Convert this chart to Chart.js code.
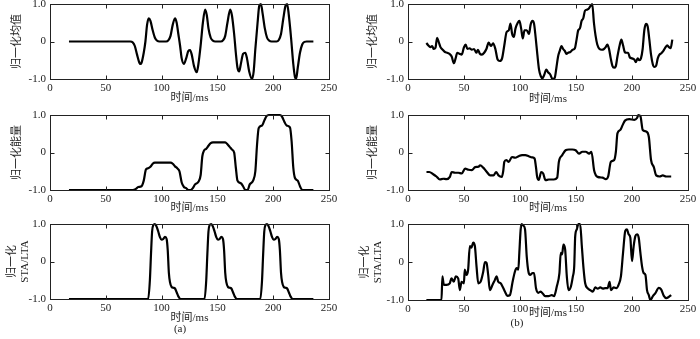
<!DOCTYPE html>
<html><head><meta charset="utf-8">
<script src="https://cdn.jsdelivr.net/npm/chart.js@4.4.1/dist/chart.umd.min.js"></script>
<style>
html,body{margin:0;padding:0;background:#fff;}
#wrap{position:relative;width:700px;height:339px;overflow:hidden;background:#fff;}
canvas{position:absolute;left:0;top:0;}
.cap{position:absolute;font:11px 'Liberation Serif','Noto Sans CJK SC',serif;color:#222;transform:translate(-50%,-50%);white-space:nowrap;}
</style></head><body>
<div id="wrap">
<canvas id="c0" width="700" height="339"></canvas>
<canvas id="c1" width="700" height="339"></canvas>
<canvas id="c2" width="700" height="339"></canvas>
<canvas id="c3" width="700" height="339"></canvas>
<canvas id="c4" width="700" height="339"></canvas>
<canvas id="c5" width="700" height="339"></canvas>
<div class="cap" style="left:180px;top:328px">(a)</div>
<div class="cap" style="left:517px;top:322px">(b)</div>
</div>
<script>
// ---------- data (time in ms, normalised values) ----------
const xTicks = [0, 50, 100, 150, 200, 250];
const yTicks = [-1, 0, 1];
const xTitle = '时间/ms';
const yTitles = ['归一化均值', '归一化能量', ['归一化', 'STA/LTA']];

// (a) synthetic signal
const meanA_t = [17,72,74,76,78,80,81,82,84,85.5,87,88.5,90,92,94,96,98,104,106,108,110,112,113.5,115,116.5,118,120,122,124,125.5,127,129,131.5,133,135,137,139,140.5,142,144,146,148,153,155,157,159,161.5,163,165,166.5,168,169.5,171,173,175,176.5,178.5,181,182.5,184,186,187.5,189,190.5,192.5,194.5,196.5,198.5,203,205,207,209,211,212.5,214,216,218,219.5,220.5,222,224,226,228,230,236];
const meanA_v = [0,0,-0.02,-0.12,-0.35,-0.56,-0.6,-0.57,-0.3,0,0.45,0.62,0.55,0.3,0.1,0.02,0,0,0.03,0.15,0.45,0.62,0.5,0.2,-0.1,-0.45,-0.6,-0.45,-0.25,-0.23,-0.35,-0.65,-0.82,-0.6,-0.1,0.5,0.85,0.7,0.35,0.1,0.02,0,0,0.03,0.15,0.5,0.85,0.7,0.2,-0.3,-0.7,-0.8,-0.6,-0.33,-0.3,-0.45,-0.8,-1.0,-0.8,-0.2,0.5,0.95,1.0,0.75,0.35,0.1,0.02,0,0,0.04,0.2,0.6,0.95,1.0,0.7,0.1,-0.6,-0.95,-1.0,-0.7,-0.3,-0.08,-0.01,0,0];

const energyA_t = [17,74,77,79,82,84,86,88,90,92,94,108,110,112,114,116,118,120,122,124,126,128,130,133,135,136.5,138,140,142,144,146,157,159,161,163,165,166.5,168,171,173,175,177,179,182,184,185.5,187,190,192,194,196,206,208,210,212,215,216.5,218,219.5,222,224,226,236];
const energyA_v = [-1,-1,-0.97,-0.92,-0.9,-0.75,-0.45,-0.42,-0.38,-0.3,-0.27,-0.27,-0.3,-0.37,-0.42,-0.5,-0.8,-0.92,-0.95,-1.0,-1.0,-0.95,-0.85,-0.78,-0.6,-0.1,0.05,0.1,0.18,0.25,0.27,0.27,0.22,0.15,0.08,0.0,-0.4,-0.75,-0.82,-0.9,-1.0,-1.0,-0.85,-0.75,-0.5,0.2,0.65,0.72,0.85,0.97,1.0,1.0,0.95,0.82,0.72,0.67,0.3,-0.4,-0.68,-0.75,-0.9,-1.0,-1.0];

const staA_t = [17,88,89.5,90.5,91.5,92.5,94,95.5,97,98.5,100,101.5,103,104.5,105.5,106.5,107.5,109,110.5,112,113.5,115,117,
  138.5,140,141,142,143,144.5,146,147.5,149,150.5,152,153.5,155,156,157,158,159.5,161,162.5,164,165.5,167.5,
  188.5,190,191,192,193,194.5,196,197.5,199,200.5,202,203.5,205,206,207,208,209.5,211,212.5,214,215.5,217.5,236];
const staA_v = [-1,-1,-0.5,0.2,0.8,0.97,1.0,0.93,0.8,0.65,0.58,0.6,0.66,0.6,0.3,-0.3,-0.55,-0.68,-0.7,-0.72,-0.82,-0.93,-1.0,
  -1,-0.5,0.2,0.8,0.97,1.0,0.93,0.8,0.65,0.58,0.6,0.66,0.6,0.3,-0.3,-0.55,-0.68,-0.7,-0.72,-0.82,-0.93,-1.0,
  -1,-0.5,0.2,0.8,0.97,1.0,0.93,0.8,0.65,0.58,0.6,0.66,0.6,0.3,-0.3,-0.55,-0.68,-0.7,-0.72,-0.82,-0.93,-1.0,-1.0];

// (b) recorded signal
const meanB_t = [16.4,18,20,21.5,23,24.5,26,27.5,29,31,33,35,37,39,41,42.5,44,46,48,50,51.5,53,55,57,59,61,62.5,64,66,68,70,72,74,76,78,80,82,84,86,88,90,91.5,93,94.5,96,98,99.5,101,102.5,104,106,108,109.5,111,112.5,114,115.5,117,118.5,120,121.5,123.5,125,127,129,131,132.5,134,135.5,137,138.5,140,141.5,143,145,147,149,150.5,152,153.5,155,156.5,158,160,161.5,163,164.5,166,167.5,169,171,173,175,176.5,178,179.5,181,182.5,184,185.5,187,189,190.5,192,193.5,195,196.5,198,200,202,203.5,205,206.5,208,209.5,211,212.5,214,215.5,217,218.5,220,221.5,223,224.5,226,228,230,231.5,233,234.5,236];
const meanB_v = [-0.04,-0.1,-0.15,-0.12,-0.2,-0.17,0.1,-0.02,-0.15,-0.22,-0.28,-0.3,-0.33,-0.4,-0.58,-0.45,-0.3,-0.33,-0.35,-0.15,-0.08,-0.2,-0.18,-0.22,-0.2,-0.3,-0.22,-0.32,-0.35,-0.3,-0.2,-0.03,-0.12,-0.05,-0.2,-0.48,-0.52,-0.45,-0.1,0.25,0.3,0.48,0.2,0.12,0.35,0.5,0.55,0.35,0.08,0.3,0.3,0.2,0.45,0.55,0.48,0.1,-0.35,-0.75,-0.92,-0.98,-0.9,-0.75,-0.82,-0.88,-1.0,-0.97,-0.7,-0.4,-0.25,-0.12,-0.2,-0.25,-0.33,-0.3,-0.28,-0.22,-0.18,0.05,0.3,0.35,0.55,0.62,0.82,0.85,0.88,0.95,1.0,0.5,0.15,-0.08,-0.2,-0.22,-0.2,-0.15,-0.08,-0.2,-0.45,-0.65,-0.7,-0.66,-0.4,-0.1,0.05,-0.1,-0.28,-0.3,-0.3,-0.42,-0.45,-0.48,-0.55,-0.45,-0.5,-0.45,-0.2,0.3,0.47,0.4,0.05,-0.35,-0.6,-0.68,-0.65,-0.45,-0.35,-0.32,-0.25,-0.15,-0.1,-0.15,-0.18,0.05];

const energyB_t = [16.5,19,22.5,25.4,28.4,31.4,34.4,37.4,39,42,45,48,51,54,57,60,63,64.4,67.4,70.4,73.4,76.3,78.7,80.8,83.8,85,86,87.7,90,92.8,95.8,98.8,101.8,104.8,107.8,110.8,113,114.3,115.3,116.8,118.9,120.7,122.8,125.7,130.2,133.2,134.7,137.7,140.7,143.7,146.7,149.7,152.7,155.7,158.7,161.7,163.8,166.2,169.2,173.7,176.6,178.7,181.1,184.1,185.6,187,189.5,191.6,193.7,197.6,202,204.5,205.7,207.5,209.6,212.6,215,217,219.5,221.6,224.6,227.5,230.5,235];
const energyB_v = [-0.52,-0.52,-0.58,-0.64,-0.72,-0.7,-0.71,-0.65,-0.52,-0.54,-0.54,-0.56,-0.43,-0.46,-0.47,-0.39,-0.38,-0.34,-0.41,-0.52,-0.61,-0.61,-0.52,-0.61,-0.65,-0.5,-0.25,-0.2,-0.25,-0.12,-0.14,-0.1,-0.07,-0.07,-0.1,-0.13,-0.16,-0.4,-0.65,-0.73,-0.52,-0.56,-0.74,-0.72,-0.72,-0.67,-0.25,-0.07,0.06,0.08,0.08,0.06,-0.03,0.02,0.02,-0.03,0.02,-0.48,-0.65,-0.67,-0.71,-0.64,-0.25,-0.2,0.02,0.51,0.6,0.73,0.85,0.89,0.87,0.92,1.0,0.97,0.6,0.56,0.42,-0.2,-0.39,-0.61,-0.64,-0.61,-0.64,-0.64];

const staB_t = [16.4,29.9,30.7,32,34.3,37.3,38.8,40.9,42.7,44.8,46.3,47.8,49.9,50.7,52.2,53.7,55.2,56.7,58.2,59.7,61.2,62.7,64.8,67.2,68.7,70.1,71.6,73.1,75.5,77.6,79.1,80.6,82.7,84.5,86.6,88.7,91,93.4,95.5,97,98.5,99.4,100.6,101.5,103,104.5,106,107.5,109,111.3,112.5,114.3,116.4,118.5,120.3,122.4,125.4,128.4,130.4,132.8,135.2,136.4,137.6,138.8,140.3,141.8,143.3,145.4,147.2,148.4,149.3,150.7,152.2,153.7,155.2,156.7,158.2,160.3,162.7,165,167.2,169.4,171.6,174,176.1,178.2,180,181.2,183.6,186,188,190.1,192,194,195.5,197,198.5,200,201.5,203,204.5,206,207.5,209,210.4,212,213.4,215,216.4,218.8,220.9,223.9,226,228.4,230.7,232.8,235];
const staB_v = [-1.0,-1.0,-0.38,-0.6,-0.6,-0.56,-0.43,-0.52,-0.38,-0.43,-0.74,-0.52,-0.56,-0.2,-0.34,-0.2,0.42,0.38,0.51,0.42,-0.12,-0.56,-0.52,-0.25,0,-0.02,-0.34,-0.74,-0.6,-0.47,-0.38,-0.52,-0.56,-0.65,-0.78,-0.89,-0.87,-0.52,-0.25,-0.16,-0.2,0.24,0.86,1.0,0.96,0.86,0.15,-0.25,-0.34,-0.29,-0.29,-0.69,-0.81,-0.78,-0.83,-0.9,-0.9,-0.87,-0.9,-0.65,-0.29,0.24,0.2,0.46,0.33,-0.38,-0.74,-0.65,-0.38,-0.12,0.68,0.86,1.0,1.0,0.42,-0.16,-0.56,-0.69,-0.74,-0.78,-0.67,-0.7,-0.67,-0.7,-0.69,-0.69,-0.52,-0.74,-0.67,-0.69,-0.6,-0.38,0.24,0.82,0.86,0.73,0.64,0.02,0.42,0.68,0.73,0.64,0.24,-0.12,-0.29,-0.34,-0.74,-0.87,-1.0,-0.89,-0.82,-0.68,-0.72,-0.89,-0.95,-0.92,-0.87];

// ---------- layout of the six panels ----------
const FS = 11, LH = FS * 1.2;
const panels = [
  {id:'c0', t:meanA_t,   v:meanA_v,   title:yTitles[0], plot:{l:50, r:329, t:4,   b:79},  yTitleX:17,  xTitleY:98},
  {id:'c1', t:energyA_t, v:energyA_v, title:yTitles[1], plot:{l:50, r:329, t:115, b:190}, yTitleX:17,  xTitleY:208},
  {id:'c2', t:staA_t,    v:staA_v,    title:yTitles[2], plot:{l:50, r:329, t:224, b:299}, yTitleX:12,  xTitleY:318},
  {id:'c3', t:meanB_t,   v:meanB_v,   title:yTitles[0], plot:{l:408,r:688, t:4,   b:79},  yTitleX:373, xTitleY:99},
  {id:'c4', t:energyB_t, v:energyB_v, title:yTitles[1], plot:{l:408,r:688, t:115, b:190}, yTitleX:373, xTitleY:208},
  {id:'c5', t:staB_t,    v:staB_v,    title:yTitles[2], plot:{l:408,r:688, t:224, b:300}, yTitleX:365, xTitleY:313}
];

Chart.defaults.font.family = "'Liberation Serif','Noto Sans CJK SC',serif";
Chart.defaults.font.size = FS;
Chart.defaults.color = '#222';

const boxPlugin = {
  id: 'boxTicks',
  afterDraw(chart) {
    const {ctx, chartArea: a, scales} = chart;
    const x = scales.x, y = scales.y;
    const L = Math.round(a.left) + 0.5, R = Math.round(a.right) + 0.5;
    const T = Math.round(a.top) + 0.5, B = Math.round(a.bottom) + 0.5;
    ctx.save();
    ctx.strokeStyle = '#222';
    ctx.lineWidth = 1;
    ctx.strokeRect(L, T, R - L, B - T);
    const k = 4;
    ctx.beginPath();
    x.ticks.forEach(tk => {
      const px = Math.round(x.getPixelForValue(tk.value)) + 0.5;
      ctx.moveTo(px, B); ctx.lineTo(px, B - k);
      ctx.moveTo(px, T); ctx.lineTo(px, T + k);
    });
    y.ticks.forEach(tk => {
      const py = Math.round(y.getPixelForValue(tk.value)) + 0.5;
      ctx.moveTo(L, py); ctx.lineTo(L + k, py);
      ctx.moveTo(R, py); ctx.lineTo(R - k, py);
    });
    ctx.stroke();
    ctx.restore();
  }
};

panels.forEach(p => {
  const yw = p.plot.l - (p.yTitleX - LH / 2);
  const xh = p.xTitleY - p.plot.b + LH / 2;
  const pad = {
    left: p.plot.l - yw,
    right: 700 - p.plot.r,
    top: p.plot.t,
    bottom: 339 - p.plot.b - xh
  };
  new Chart(document.getElementById(p.id), {
    type: 'line',
    data: {
      datasets: [{
        data: p.t.map((tt, i) => ({x: tt, y: p.v[i]})),
        borderColor: '#000',
        borderWidth: 2.2,
        pointRadius: 0,
        fill: false,
        cubicInterpolationMode: 'monotone',
        clip: 2
      }]
    },
    options: {
      responsive: false,
      animation: false,
      devicePixelRatio: 1,
      layout: {padding: pad},
      plugins: {legend: {display: false}, tooltip: {enabled: false}},
      scales: {
        x: {
          type: 'linear', min: 0, max: 250,
          afterBuildTicks: s => { s.ticks = xTicks.map(v => ({value: v})); },
          grid: {display: false, drawTicks: false},
          border: {display: false},
          ticks: {padding: 3, maxRotation: 0, autoSkip: false, callback: v => String(v)},
          title: {display: true, text: xTitle, padding: 0},
          afterFit: s => { s.height = xh; s.paddingLeft = 0; s.paddingRight = 0; s.paddingTop = 0; s.paddingBottom = 0; }
        },
        y: {
          type: 'linear', min: -1, max: 1,
          afterBuildTicks: s => { s.ticks = yTicks.map(v => ({value: v})); },
          grid: {display: false, drawTicks: false},
          border: {display: false},
          ticks: {padding: 4, callback: v => (v === 0 ? '0' : v.toFixed(1))},
          title: {display: true, text: p.title, padding: 0},
          afterFit: s => { s.width = yw; s.paddingLeft = 0; s.paddingRight = 0; s.paddingTop = 0; s.paddingBottom = 0; }
        }
      }
    },
    plugins: [boxPlugin]
  });
});
</script>
</body></html>
